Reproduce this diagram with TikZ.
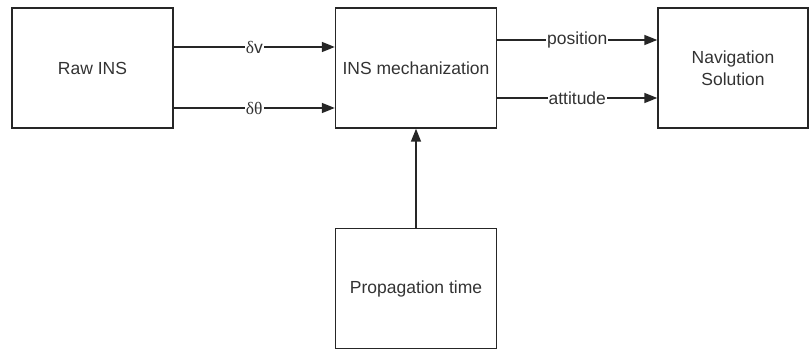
\documentclass[tikz,border=0pt]{standalone}
\usepackage{fontspec}
\setmainfont{Liberation Sans}
\newfontfamily\greekfont{Liberation Serif}
\usetikzlibrary{arrows.meta}
\begin{document}
\begin{tikzpicture}[x=1pt,y=-1pt,
  blockbox/.style={draw=black!85,line width=1.4pt,rectangle,minimum width=161pt,minimum height=120pt,inner sep=0pt,align=center,font=\fontsize{17.5}{21.5}\selectfont,text=black!80},
  flow/.style={draw=black!85,line width=1.4pt,-{Triangle[length=13pt,width=10pt]}},
  lbl/.style={fill=white,inner sep=1pt,font=\fontsize{17.5}{21}\selectfont,text=black!80}]
\useasboundingbox (0,0) rectangle (809,350);
\node[blockbox] (raw) at (92.5,68) {Raw INS};
\node[blockbox] (mech) at (416,68) {INS mechanization};
\node[blockbox,minimum width=150pt] (nav) at (733,68) {Navigation\\Solution};
\node[blockbox] (prop) at (416,288.5) {Propagation time};
\draw[flow] ([yshift=21pt]raw.east) -- node[lbl] {{\greekfont δ}v} ([yshift=21pt]mech.west);
\draw[flow] ([yshift=-40pt]raw.east) -- node[lbl] {{\greekfont δθ}} ([yshift=-40pt]mech.west);
\draw[flow] ([yshift=28pt]mech.east) -- node[lbl] {position} ([yshift=28pt]nav.west);
\draw[flow] ([yshift=-30pt]mech.east) -- node[lbl] {attitude} ([yshift=-30pt]nav.west);
\draw[flow] (prop.north) -- (mech.south);
\end{tikzpicture}
\end{document}
